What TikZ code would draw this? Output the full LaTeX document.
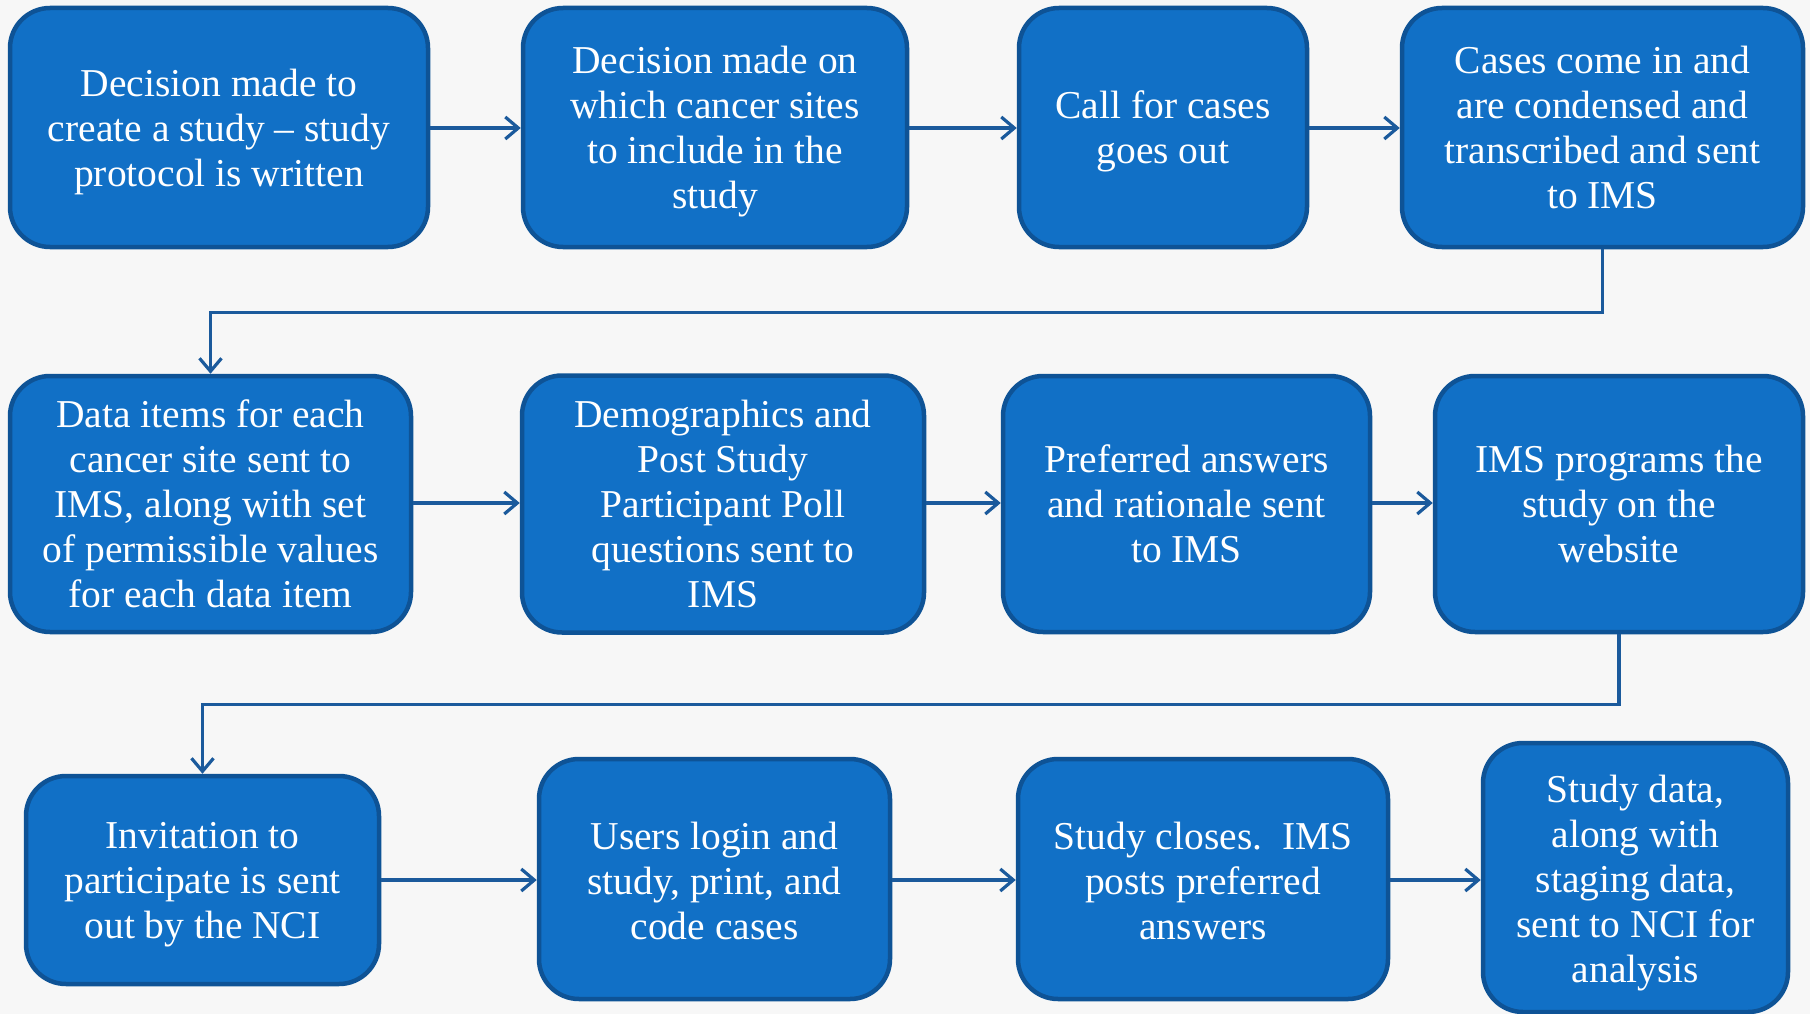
\documentclass[tikz,border=0pt]{standalone}
\usepackage{fontspec}
\setmainfont{Liberation Serif}
\usetikzlibrary{arrows.meta}
\definecolor{boxfill}{HTML}{1170C6}
\definecolor{boxline}{HTML}{0E5396}
\definecolor{conn}{HTML}{1B5A9C}
\definecolor{bgcol}{HTML}{F7F7F7}
\tikzset{
  stepbox/.style={draw=boxline, fill=boxfill, line width=4.5pt, rounded corners=40pt,
    inner sep=0pt},
  steptext/.style={text=white, align=center, inner sep=0pt,
    font=\fontsize{39.5}{45}\selectfont},
  arr/.style={draw=conn, line width=3.2pt, -{Straight Barb[length=13pt,width=22pt,line width=3.2pt]}}
}
\begin{document}
\begin{tikzpicture}[x=1pt,y=-1pt]
\fill[bgcol] (0,0) rectangle (1810,1014);
\useasboundingbox (0,0) rectangle (1810,1014);
% row 1
\node[stepbox, minimum width=418pt, minimum height=239pt] (b1) at (219,127.5) {};
\node[stepbox, minimum width=384pt, minimum height=239pt] (b2) at (715,127.5) {};
\node[stepbox, minimum width=288pt, minimum height=239pt] (b3) at (1163,127.5) {};
\node[stepbox, minimum width=401pt, minimum height=239pt] (b4) at (1602.5,127.5) {};
% row 2
\node[stepbox, minimum width=401pt, minimum height=256pt] (b5) at (210.5,504) {};
\node[stepbox, minimum width=402pt, minimum height=257pt] (b6) at (723,504) {};
\node[stepbox, minimum width=367pt, minimum height=256pt] (b7) at (1186.5,504) {};
\node[stepbox, minimum width=368pt, minimum height=256pt] (b8) at (1619,504) {};
% row 3
\node[stepbox, minimum width=353pt, minimum height=208pt] (b9) at (202.5,880) {};
\node[stepbox, minimum width=351pt, minimum height=240pt] (b10) at (714.5,879) {};
\node[stepbox, minimum width=370pt, minimum height=240pt] (b11) at (1203,879) {};
\node[stepbox, minimum width=305pt, minimum height=269pt] (b12) at (1635.5,877.5) {};
% texts
\node[steptext] (t1) at ([yshift=-5pt]b1.center) {Decision made to\\create a study -- study\\protocol is written};
\node[steptext] (t2) at ([yshift=-4pt]b2.center) {Decision made on\\which cancer sites\\to include in the\\study};
\node[steptext] (t3) at ([yshift=-4pt]b3.center) {Call for cases\\goes out};
\node[steptext] (t4) at (b4.center) {Cases come in and\\are condensed and\\transcribed and sent\\to IMS};
\node[steptext] (t5) at (b5.center) {Data items for each\\cancer site sent to\\IMS, along with set\\of permissible values\\for each data item};
\node[steptext] (t6) at (b6.center) {Demographics and\\Post Study\\Participant Poll\\questions sent to\\IMS};
\node[steptext] (t7) at (b7.center) {Preferred answers\\and rationale sent\\to IMS};
\node[steptext] (t8) at (b8.center) {IMS programs the\\study on the\\website};
\node[steptext] (t9) at ([yshift=-5pt]b9.center) {Invitation to\\participate is sent\\out by the NCI};
\node[steptext] (t10) at ([yshift=-1.5pt]b10.center) {Users login and\\study, print, and\\code cases};
\node[steptext] (t11) at ([yshift=-1.5pt]b11.center) {Study closes.\ \ IMS\\posts preferred\\answers};
\node[steptext] (t12) at ([yshift=-6pt]b12.center) {Study data,\\along with\\staging data,\\sent to NCI for\\analysis};
% connectors
\draw[arr] (b1.east |- 0,128) -- (b2.west |- 0,128);
\draw[arr] (b2.east |- 0,128) -- (b3.west |- 0,128);
\draw[arr] (b3.east |- 0,128) -- (b4.west |- 0,128);
\draw[arr] (b4.south) -- ++(0,63) -| (b5.north);
\draw[arr] (b5.east |- 0,503) -- (b6.west |- 0,503);
\draw[arr] (b6.east |- 0,503) -- (b7.west |- 0,503);
\draw[arr] (b7.east |- 0,503) -- (b8.west |- 0,503);
\draw[arr] (b8.south) -- ++(0,70) -| (b9.north);
\draw[arr] (b9.east |- 0,880) -- (b10.west |- 0,880);
\draw[arr] (b10.east |- 0,880) -- (b11.west |- 0,880);
\draw[arr] (b11.east |- 0,880) -- (b12.west |- 0,880);
\end{tikzpicture}
\end{document}
